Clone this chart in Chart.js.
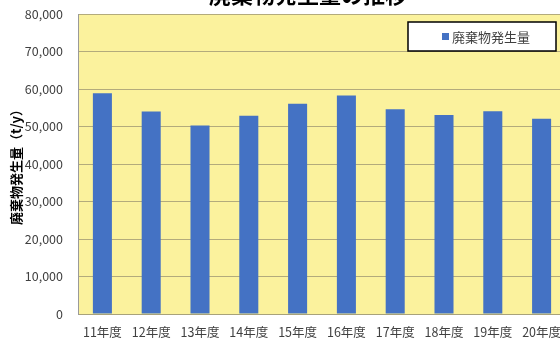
<!DOCTYPE html>
<html>
<head>
<meta charset="utf-8">
<script src="https://cdn.jsdelivr.net/npm/chart.js@4"></script>
<style>
  html, body { margin: 0; padding: 0; background: #fff; overflow: hidden; }
  body { width: 560px; height: 340px; position: relative; }
  #wrap { position: absolute; left: 0; top: -16px; width: 616px; height: 360px; }
</style>
</head>
<body>
<div id="wrap"><canvas id="myChart" width="616" height="360"></canvas></div>
<script>
// 年度ごとの廃棄物発生量 (t/y)
const years = ["11年度", "12年度", "13年度", "14年度", "15年度", "16年度", "17年度", "18年度", "19年度", "20年度"];
const amounts = [58900, 54000, 50300, 52900, 56100, 58300, 54600, 53100, 54100, 52100];
const seriesName = "廃棄物発生量";
const yMax = 80000;
const yStep = 10000;

const fontFamily = '"Noto Sans CJK JP", "Noto Sans", sans-serif';
const textColor = "#404040";

// プロットエリアの背景
const plotBg = {
  id: "plotBg",
  beforeDraw(chart) {
    const { ctx, chartArea: a } = chart;
    ctx.save();
    ctx.fillStyle = "#fbf29d";
    ctx.fillRect(a.left, a.top, a.right - a.left, a.bottom - a.top);
    ctx.restore();
  },
};

// 枠付きの凡例（プロットエリア右上）
const boxLegend = {
  id: "boxLegend",
  afterDraw(chart) {
    const { ctx, chartArea: a } = chart;
    const ds = chart.data.datasets[0];
    const w = 148, h = 29;
    const x = a.right - 10 - w;
    const y = a.top + 8;
    ctx.save();
    ctx.fillStyle = "#fff";
    ctx.fillRect(x, y, w, h);
    ctx.strokeStyle = "#000";
    ctx.lineWidth = 1.5;
    ctx.strokeRect(x, y, w, h);
    ctx.fillStyle = ds.backgroundColor;
    ctx.fillRect(x + 34, y + h / 2 - 3.5, 7, 7);
    ctx.fillStyle = textColor;
    ctx.font = "13px " + fontFamily;
    ctx.textBaseline = "middle";
    ctx.textAlign = "left";
    ctx.fillText(ds.label, x + 44, y + h / 2 + 0.5);
    ctx.restore();
  },
};

const ctx = document.getElementById("myChart").getContext("2d");
const myChart = new Chart(ctx, {
  type: "bar",
  data: {
    labels: years,
    datasets: [
      {
        label: seriesName,
        data: amounts,
        backgroundColor: "#4472c4",
        borderWidth: 0,
        categoryPercentage: 1,
        barPercentage: 0.39,
        yAxisID: "y",
      },
    ],
  },
  options: {
    responsive: false,
    animation: false,
    devicePixelRatio: 1,
    locale: "en-US",
    layout: { padding: 0 },
    plugins: {
      legend: { display: false },
      tooltip: { enabled: false },
      title: {
        display: true,
        text: "廃棄物発生量の推移",
        color: "#000",
        font: { family: fontFamily, size: 22, weight: "bold", lineHeight: 1 },
        padding: { top: 0, bottom: 8 },
      },
    },
    scales: {
      x: {
        grid: { display: false, drawTicks: false },
        border: { display: true, color: "#a8a27a", width: 1 },
        ticks: {
          color: textColor,
          font: { family: fontFamily, size: 12.5 },
          padding: 11,
          maxRotation: 0,
          autoSkip: false,
        },
        afterFit(s) { s.height = 30; },
      },
      y: {
        min: 0,
        max: yMax,
        grid: { color: "#b3ab7c", lineWidth: 1, drawTicks: false },
        border: { display: true, color: "#9a9a9a", width: 1 },
        ticks: {
          stepSize: yStep,
          color: textColor,
          font: { family: fontFamily, size: 12.5 },
          padding: 15,
        },
        title: {
          display: true,
          text: "廃棄物発生量（t/y）",
          color: "#000",
          font: { family: fontFamily, size: 13, weight: "bold" },
          padding: { top: 8, bottom: 0 },
        },
        afterFit(s) { s.width = 78; },
      },
      // 右側の余白用（表示なし）
      yRight: {
        position: "right",
        grid: { display: false },
        border: { display: false },
        ticks: { display: false },
        afterFit(s) { s.width = 50; },
      },
    },
  },
  plugins: [plotBg, boxLegend],
});
</script>
</body>
</html>
